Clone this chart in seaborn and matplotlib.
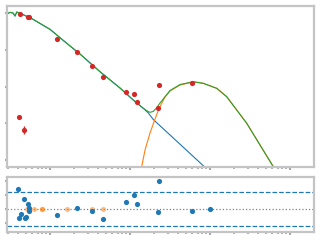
import numpy as np
import pandas as pd
import matplotlib
matplotlib.use("Agg")
import matplotlib.pyplot as plt
import seaborn as sns
from matplotlib.ticker import LogLocator, NullFormatter, FixedLocator

# ---------------- data (log10 values) ----------------
# observed photometry
obs_logx = [-0.371, -0.275, -0.259, 0.091, 0.341, 0.529, 0.666, 0.954, 1.054, 1.091,
            1.366, 1.356, -0.384, -0.321, 1.779]
obs_logy = [3.965, 3.905, 3.883, 3.284, 2.931, 2.550, 2.250, 1.842, 1.788, 1.570,
            2.033, 1.407, 1.162, 0.808, 2.087]
obs_logerr = [0.03, 0.03, 0.03, 0.04, 0.03, 0.03, 0.03, 0.03, 0.03, 0.03,
              0.03, 0.03, 0.03, 0.11, 0.03]

# total model
tot_logx = [-0.5375, -0.5, -0.4625, -0.4375, -0.416, -0.3875, -0.3125, -0.2125, 0.0, 0.209,
            0.375, 0.625, 0.875, 1.041, 1.166, 1.225, 1.25, 1.2875, 1.325, 1.375,
            1.5, 1.625, 1.791, 1.916, 2.084, 2.209, 2.459, 2.791, 3.0]
tot_logy = [3.973, 4.019, 4.0, 3.918, 4.027, 4.0, 3.932, 3.829, 3.556, 3.176,
            2.884, 2.403, 1.959, 1.633, 1.407, 1.320, 1.298, 1.320, 1.401, 1.551,
            1.891, 2.054, 2.131, 2.087, 1.951, 1.722, 0.999, -0.182, -0.92]

# stellar component
star_logx = [-0.5375, -0.5, -0.4625, -0.4375, -0.416, -0.3875, -0.3125, -0.2125, 0.0, 0.209,
             0.375, 0.625, 0.875, 1.041, 1.166, 1.229, 1.291, 1.929, 2.0625]
star_logy = [3.973, 4.019, 4.0, 3.918, 4.027, 4.0, 3.932, 3.829, 3.556, 3.176,
             2.884, 2.403, 1.959, 1.633, 1.407, 1.279, 1.102, -0.182, -0.463]

# dust component
dust_logx = [1.1, 1.146, 1.1875, 1.25, 1.3125, 1.3625, 1.4375, 1.5, 1.625, 1.791,
             1.916, 2.084, 2.209, 2.459, 2.791, 3.0]
dust_logy = [-0.68, -0.182, 0.272, 0.735, 1.116, 1.401, 1.714, 1.878, 2.041, 2.125,
             2.087, 1.951, 1.722, 0.999, -0.182, -0.92]

# residuals
res_logx = [-0.396, -0.321, -0.275, -0.259, -0.259, -0.366, -0.384, -0.300, -0.309, 0.091,
            0.341, 0.529, 0.666, 0.954, 1.054, 1.091, 1.366, 1.354, 1.779, 2.004]
res_val = [1.39, 0.70, 0.33, 0.09, -0.16, -0.37, -0.63, -0.56, -0.65, -0.42,
           0.07, -0.16, -0.73, 0.49, 0.96, 0.33, 1.95, -0.23, -0.16, -0.02]
lim_logx = [-0.284, -0.196, -0.104, -0.094, 0.216, 0.529, 0.666]
lim_val = [0, 0, 0, 0, 0, 0, 0]
res_band = 1.2

# ---------------- plotting ----------------
sns.set_theme(style="white")
plt.rcParams["font.family"] = ["DejaVu Sans"]

fig = plt.figure(figsize=(3.2, 2.4), dpi=100)
ax = fig.add_axes([0.0228, 0.3054, 0.9575, 0.6708])
axr = fig.add_axes([0.0228, 0.0346, 0.9575, 0.2267])

spine_col = "#c4c4c4"
tick_col = "#a8a8a8"

for a in (ax, axr):
    a.set_xscale("log")
    for s in a.spines.values():
        s.set_color(spine_col)
        s.set_linewidth(1.6)
    a.tick_params(axis="both", which="major", direction="out", length=1.8, width=1.5,
                  color=tick_col, labelbottom=False, labelleft=False,
                  bottom=True, left=True, top=False, right=False)
    a.tick_params(axis="x", which="minor", direction="out", length=1.2, width=1.3,
                  color=tick_col, bottom=True, top=False)
    a.xaxis.set_major_locator(LogLocator(base=10, numticks=10))
    a.xaxis.set_minor_locator(LogLocator(base=10, subs=np.arange(2, 10), numticks=10))
    a.xaxis.set_minor_formatter(NullFormatter())
    a.set_xlim(10 ** -0.534, 10 ** 3.296)

ax.set_yscale("log")
ax.yaxis.set_major_locator(LogLocator(base=10, numticks=10))
ax.yaxis.set_minor_locator(plt.NullLocator())
ax.set_ylim(10 ** -0.182, 10 ** 4.199)

star = pd.DataFrame({"x": np.power(10.0, star_logx), "y": np.power(10.0, star_logy)})
dust = pd.DataFrame({"x": np.power(10.0, dust_logx), "y": np.power(10.0, dust_logy)})
tot = pd.DataFrame({"x": np.power(10.0, tot_logx), "y": np.power(10.0, tot_logy)})
obs = pd.DataFrame({"x": np.power(10.0, obs_logx), "y": np.power(10.0, obs_logy)})

sns.lineplot(data=star, x="x", y="y", sort=False, estimator=None, color="tab:blue", lw=0.8, ax=ax)
sns.lineplot(data=dust, x="x", y="y", sort=False, estimator=None, color="tab:orange", lw=0.8, ax=ax)
sns.lineplot(data=tot, x="x", y="y", sort=False, estimator=None, color="tab:green", lw=0.8, ax=ax)

ylo = obs["y"] - np.power(10.0, np.array(obs_logy) - np.array(obs_logerr))
yhi = np.power(10.0, np.array(obs_logy) + np.array(obs_logerr)) - obs["y"]
ax.errorbar(obs["x"], obs["y"], yerr=[ylo, yhi], fmt="none", ecolor="tab:red", elinewidth=1.0, zorder=4)
sns.scatterplot(data=obs, x="x", y="y", color="tab:red", s=14, linewidth=0, ax=ax, zorder=5)

ax.set_xlabel("")
ax.set_ylabel("")

# residual panel
axr.set_ylim(-1.60, 2.23)
axr.yaxis.set_major_locator(FixedLocator([-1, 0, 1, 2]))
axr.axhline(0, color="gray", ls=":", lw=0.9, zorder=1)
axr.axhline(res_band, color="tab:blue", ls="--", lw=0.9, zorder=1)
axr.axhline(-res_band, color="tab:blue", ls="--", lw=0.9, zorder=1)

res = pd.DataFrame({"x": np.power(10.0, res_logx), "r": res_val})
lim = pd.DataFrame({"x": np.power(10.0, lim_logx), "r": lim_val})
sns.scatterplot(data=lim, x="x", y="r", color="tab:orange", alpha=0.5, s=14, linewidth=0, ax=axr, zorder=3)
sns.scatterplot(data=res, x="x", y="r", color="tab:blue", s=14, linewidth=0, ax=axr, zorder=4)
axr.set_xlabel("")
axr.set_ylabel("")

fig.savefig("out.png", dpi=100)
